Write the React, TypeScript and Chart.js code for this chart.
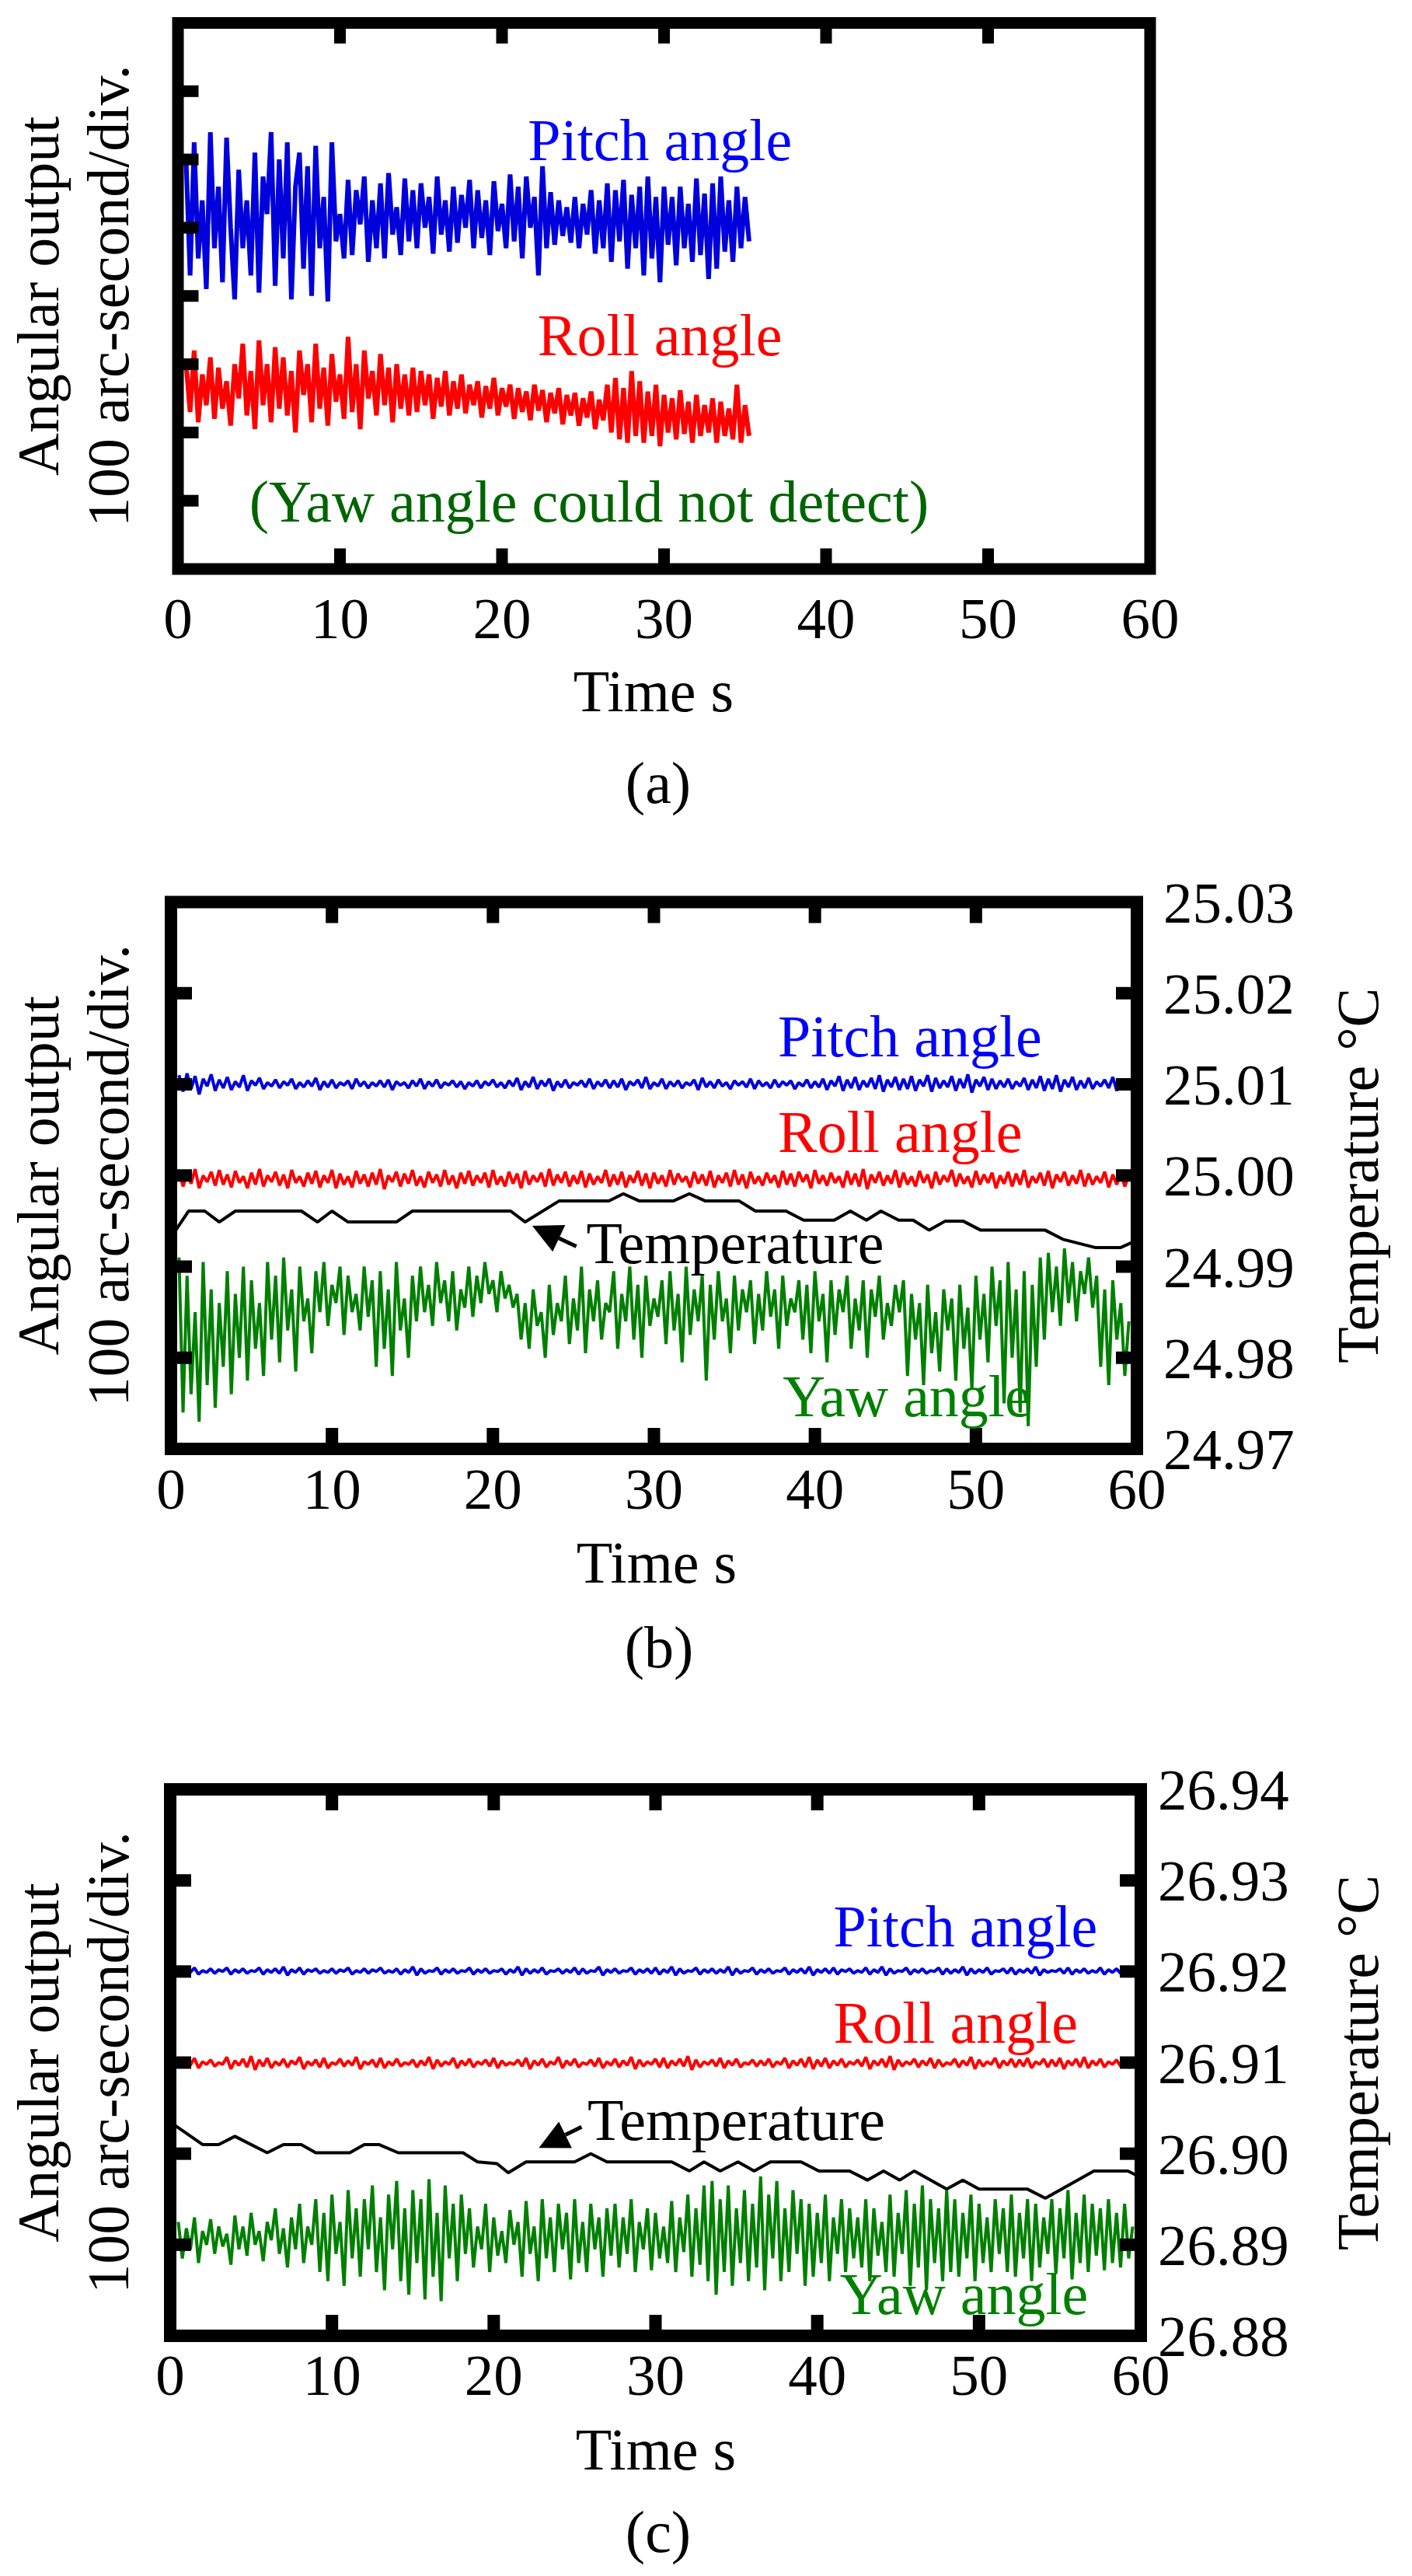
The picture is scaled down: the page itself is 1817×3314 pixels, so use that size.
import React, { useEffect, useRef } from "react";
import { Chart, registerables } from "chart.js";

Chart.register(...registerables);

const FONT = "'Liberation Serif', 'Times New Roman', Times, serif";

// ---------- tick labels ----------
const xTickValues = [0, 10, 20, 30, 40, 50, 60];
const xTickLabels = ["0", "10", "20", "30", "40", "50", "60"];
const tempTickValuesB = [24.97, 24.98, 24.99, 25.0, 25.01, 25.02, 25.03];
const tempTickLabelsB = ["24.97", "24.98", "24.99", "25.00", "25.01", "25.02", "25.03"];
const tempTickValuesC = [26.88, 26.89, 26.9, 26.91, 26.92, 26.93, 26.94];
const tempTickLabelsC = ["26.88", "26.89", "26.90", "26.91", "26.92", "26.93", "26.94"];

// ---------- panel (a): samples every 0.25 s starting at 0.5 s (arc-second) ----------
const pitchA = [
  600, 430, 625, 455, 540, 410, 640, 470,
  560, 420, 632, 500, 395, 585, 470, 540,
  430, 610, 405, 575, 520, 640, 415, 600,
  455, 625, 395, 560, 610, 440, 590, 400,
  620, 470, 545, 392, 625, 480, 520, 455,
  570, 460, 555, 505, 575, 450, 540, 470,
  565, 455, 580, 490, 530, 460, 572, 480,
  555, 470, 565, 500, 545, 462, 575, 490,
  540, 465, 560, 478, 548, 500, 570, 470,
  555, 485, 540, 460, 568, 495, 535, 470,
  578, 480, 560, 455, 575, 500, 545, 430,
  590, 470, 552, 475, 540, 488, 530, 478,
  545, 470, 535, 490, 555, 462, 540, 470,
  565, 450, 555, 480, 570, 440, 548, 470,
  560, 430, 575, 455, 545, 420, 560, 475,
  545, 445, 560, 470, 535, 450, 572, 460,
  550, 425, 565, 440, 575, 465, 540, 450,
  560, 470, 545, 480,
];
const rollA = [
  300, 230, 320, 215, 285, 240, 310, 220,
  295, 235, 275, 210, 300, 250, 330, 225,
  290, 205, 335, 240, 300, 215, 325, 235,
  310, 225, 290, 200, 320, 255, 300, 215,
  330, 235, 295, 210, 315, 245, 285, 220,
  340, 230, 300, 205, 320, 250, 290, 225,
  315, 240, 295, 215, 300, 235, 285, 225,
  295, 230, 290, 240, 285, 220, 280, 238,
  290, 225, 275, 235, 285, 228, 270, 240,
  275, 222, 268, 235, 280, 225, 265, 238,
  270, 220, 265, 230, 260, 218, 270, 232,
  262, 215, 258, 228, 265, 212, 255, 225,
  258, 210, 250, 222, 260, 205, 248, 218,
  270, 200, 280, 190, 265, 185, 290, 195,
  275, 185, 260, 195, 270, 180, 255, 200,
  250, 190, 262, 198, 245, 185, 255, 195,
  240, 200, 250, 185, 245, 195, 235, 190,
  270, 185, 240, 195,
];

// ---------- panel (b): samples every 0.25 s starting at 0.5 s ----------
const pitchB = [
  410, 392, 412, 395, 409, 389, 406, 398, 411, 393, 405, 396,
  408, 394, 403, 397, 410, 393, 404, 399, 407, 395, 402, 398,
  405, 396, 403, 399, 406, 395, 402, 397, 404, 398, 407, 394,
  403, 397, 405, 396, 402, 399, 404, 395, 406, 398, 403, 396,
  402, 398, 404, 397, 405, 394, 403, 399, 402, 396, 404, 398,
  406, 395, 403, 398, 405, 396, 402, 399, 404, 397, 403, 395,
  402, 398, 404, 396, 403, 399, 405, 397, 402, 396, 404, 398,
  407, 394, 403, 397, 408, 395, 404, 398, 406, 393, 403, 397,
  405, 396, 402, 399, 404, 397, 406, 395, 403, 398, 405, 396,
  404, 397, 406, 394, 403, 399, 405, 396, 408, 395, 402, 398,
  406, 395, 403, 398, 404, 396, 402, 399, 405, 394, 407, 397,
  403, 396, 405, 398, 402, 395, 404, 399, 403, 397, 406, 395,
  404, 398, 402, 396, 405, 397, 403, 399, 404, 395, 402, 398,
  405, 396, 403, 397, 406, 394, 404, 398, 409, 393, 405, 396,
  408, 394, 404, 397, 407, 395, 410, 392, 405, 397, 408, 394,
  406, 395, 409, 393, 405, 398, 410, 392, 407, 396, 404, 397,
  409, 393, 406, 396, 411, 391, 405, 398, 408, 394, 406, 395,
  404, 397, 406, 395, 403, 398, 407, 394, 405, 396, 409, 393,
  406, 395, 410, 392, 405, 397, 408, 394, 404, 396, 407, 395,
  403, 398, 405, 396, 408, 393, 404, 397, 402,
];
const rollB = [
  305, 288, 302, 291, 307, 286, 300, 293, 304, 289, 306, 290,
  301, 287, 305, 292, 299, 286, 303, 290, 307, 288, 300, 293,
  304, 289, 301, 286, 306, 292, 299, 288, 303, 291, 305, 287,
  300, 292, 306, 286, 302, 290, 299, 287, 305, 291, 301, 288,
  303, 290, 307, 285, 300, 293, 304, 288, 302, 291, 306, 289,
  299, 287, 304, 292, 301, 288, 306, 290, 300, 286, 303, 291,
  305, 289, 300, 292, 303, 287, 306, 290, 299, 288, 304, 291,
  302, 286, 305, 290, 300, 293, 303, 288, 307, 289, 301, 292,
  304, 288, 300, 291, 305, 287, 302, 290, 299, 292, 306, 288,
  301, 290, 304, 287, 300, 292, 305, 289, 302, 286, 303, 291,
  300, 288, 306, 290, 302, 293, 299, 287, 304, 291, 301, 289,
  305, 287, 300, 292, 303, 288, 306, 290, 301, 286, 304, 291,
  299, 289, 303, 292, 300, 287, 305, 290, 302, 288, 304, 293,
  301, 286, 306, 291, 300, 289, 303, 292, 299, 287, 305, 290,
  302, 288, 307, 285, 301, 292, 304, 289, 300, 291, 306, 287,
  303, 290, 299, 288, 305, 292, 301, 286, 304, 290, 300, 293,
  306, 288, 302, 291, 299, 287, 305, 290, 301, 292, 303, 286,
  300, 291, 304, 288, 302, 290, 306, 287, 299, 292, 303, 289,
  305, 286, 301, 293, 304, 289, 300, 291, 306, 288, 302, 290,
  299, 292, 304, 287, 301, 290, 303, 288, 300,
];
const yawB = [
  210, 40, 190, 60, 150, 30, 205, 70, 175, 45, 160, 90,
  195, 60, 170, 100, 200, 75, 185, 110, 160, 80, 205, 120,
  190, 95, 210, 130, 175, 85, 200, 140, 165, 105, 195, 150,
  205, 135, 180, 160, 200, 125, 190, 150, 170, 130, 200, 145,
  185, 90, 195, 110, 175, 80, 205, 130, 165, 100, 190, 140,
  200, 150, 180, 135, 205, 160, 185, 140, 195, 130, 175, 155,
  200, 145, 190, 160, 205, 170, 185, 150, 195, 165, 180, 155,
  170, 120, 160, 110, 175, 135, 150, 100, 180, 125, 160, 140,
  190, 115, 165, 130, 200, 105, 175, 140, 185, 120, 160, 150,
  195, 110, 170, 140, 200, 120, 180, 100, 190, 135, 165, 145,
  185, 115, 195, 130, 170, 95, 200, 125, 175, 140, 190, 75,
  180, 120, 195, 140, 165, 105, 190, 130, 175, 150, 185, 115,
  170, 130, 195, 145, 175, 110, 190, 135, 165, 150, 185, 120,
  180, 105, 195, 140, 170, 95, 185, 125, 175, 150, 190, 110,
  165, 130, 185, 100, 175, 145, 190, 120, 160, 135, 180, 150,
  185, 80, 170, 120, 160, 70, 180, 105, 150, 85, 175, 130,
  165, 75, 180, 110, 155, 65, 190, 120, 170, 95, 200, 135,
  185, 50, 205, 100, 175, 40, 195, 25, 180, 90, 210, 120,
  215, 150, 200, 135, 220, 160, 205, 140, 195, 170, 210, 155,
  190, 90, 175, 70, 185, 120, 160, 80, 140,
];
const tempTimeB = [
  0.3, 1.1, 2.1, 3.0, 4.0, 8.1, 9.1, 10.0, 11.0, 14.0, 15.0, 21.1, 22.0, 24.1,
  27.2, 28.1, 29.1, 31.2, 32.2, 33.2, 35.3, 36.3, 38.2, 39.3, 41.2, 42.2, 43.2,
  44.1, 45.2, 46.1, 47.1, 48.1, 49.2, 50.3, 54.3, 55.4, 57.4, 59.0, 60.0,
];
const tempB = [
  24.994, 24.9961, 24.9961, 24.9949, 24.9961, 24.9961, 24.9949, 24.9961, 24.9949,
  24.9949, 24.9961, 24.9961, 24.9949, 24.9972, 24.9972, 24.998, 24.9972, 24.9972,
  24.998, 24.9972, 24.9972, 24.9961, 24.9961, 24.9951, 24.9951, 24.9961, 24.9951,
  24.9961, 24.9951, 24.9951, 24.994, 24.995, 24.995, 24.994, 24.994, 24.993,
  24.9921, 24.9921, 24.9929,
];

// ---------- panel (c): samples every 0.25 s starting at 0.5 s ----------
const pitchC = [
  403, 398, 402, 399, 404, 397, 401, 399, 403, 398, 402, 400,
  404, 397, 402, 399, 403, 398, 401, 400, 404, 397, 402, 399,
  403, 398, 405, 396, 402, 399, 404, 397, 402, 400, 403, 398,
  401, 399, 403, 398, 402, 400, 404, 397, 401, 399, 403, 398,
  402, 400, 404, 398, 401, 399, 403, 397, 402, 399, 405, 396,
  403, 398, 401, 400, 404, 397, 402, 399, 403, 398, 401, 400,
  404, 397, 402, 399, 403, 398, 401, 400, 403, 397, 402, 399,
  405, 396, 403, 398, 402, 399, 404, 397, 401, 400, 403, 398,
  402, 399, 404, 397, 403, 398, 401, 400, 405, 396, 402, 399,
  403, 398, 401, 400, 404, 397, 402, 399, 403, 398, 404, 397,
  402, 399, 405, 396, 403, 398, 401, 400, 404, 397, 402, 399,
  403, 398, 402, 399, 405, 396, 403, 398, 401, 400, 404, 397,
  402, 399, 403, 398, 401, 400, 404, 397, 402, 399, 403, 398,
  405, 396, 402, 399, 403, 398, 404, 397, 402, 400, 403, 398,
  401, 399, 404, 397, 402, 399, 405, 396, 403, 398, 401, 400,
  404, 397, 402, 399, 403, 398, 401, 400, 404, 397, 403, 398,
  402, 399, 405, 396, 403, 398, 402, 399, 404, 397, 401, 400,
  403, 398, 404, 397, 402, 399, 403, 398, 405, 396, 402, 399,
  401, 400, 403, 398, 404, 397, 402, 399, 403, 398, 401, 399,
  404, 397, 402, 399, 403, 398, 401, 400, 402,
];
const rollC = [
  304, 295, 302, 297, 305, 294, 301, 298, 303, 296, 300, 298,
  306, 293, 302, 297, 304, 295, 307, 292, 303, 296, 305, 294,
  301, 297, 304, 295, 302, 298, 306, 293, 301, 297, 303, 295,
  305, 294, 300, 298, 304, 296, 302, 297, 306, 293, 301, 298,
  303, 295, 305, 294, 301, 297, 304, 296, 300, 298, 303, 295,
  302, 297, 306, 293, 303, 296, 301, 298, 305, 294, 302, 297,
  304, 295, 301, 298, 303, 296, 305, 294, 302, 297, 300, 298,
  303, 296, 305, 293, 302, 297, 304, 295, 301, 298, 306, 294,
  302, 297, 304, 295, 300, 298, 303, 296, 305, 294, 301, 297,
  304, 295, 302, 297, 306, 293, 303, 296, 301, 298, 304, 295,
  305, 294, 302, 297, 304, 296, 307, 292, 303, 295, 301, 298,
  303, 296, 305, 294, 302, 297, 304, 295, 300, 298, 303, 296,
  302, 297, 304, 295, 301, 298, 305, 294, 302, 297, 304, 295,
  306, 293, 303, 296, 305, 294, 302, 297, 304, 295, 301, 298,
  303, 296, 306, 293, 302, 297, 304, 295, 307, 292, 303, 296,
  301, 298, 304, 295, 302, 297, 305, 294, 303, 296, 300, 298,
  304, 295, 302, 297, 306, 293, 303, 296, 301, 298, 305, 294,
  302, 297, 304, 295, 303, 296, 305, 294, 301, 298, 304, 295,
  303, 296, 305, 293, 302, 297, 304, 295, 306, 294, 302, 297,
  304, 295, 301, 298, 303, 296, 305, 294, 302,
];
const yawC = [
  125, 85, 118, 95, 130, 80, 115, 100, 128, 90, 120, 98,
  112, 78, 132, 95, 120, 88, 135, 100, 115, 82, 125, 105,
  140, 90, 118, 75, 130, 95, 145, 80, 120, 100, 150, 70,
  135, 60, 155, 90, 125, 55, 160, 85, 140, 65, 150, 95,
  165, 70, 130, 50, 155, 95, 170, 60, 140, 45, 160, 80,
  150, 40, 172, 65, 135, 38, 165, 85, 145, 60, 155, 90,
  140, 75, 120, 95, 145, 70, 130, 88, 115, 80, 138, 100,
  125, 65, 148, 90, 120, 60, 150, 85, 130, 70, 145, 95,
  135, 62, 150, 80, 125, 70, 145, 95, 130, 65, 140, 88,
  145, 75, 130, 90, 150, 70, 125, 95, 140, 72, 135, 85,
  120, 80, 148, 70, 130, 92, 155, 65, 140, 78, 165, 60,
  170, 45, 150, 70, 165, 55, 140, 80, 160, 60, 145, 75,
  175, 50, 155, 85, 170, 60, 140, 70, 160, 90, 150, 55,
  145, 65, 135, 80, 155, 60, 130, 90, 150, 70, 140, 85,
  130, 75, 150, 60, 140, 88, 125, 70, 155, 65, 135, 90,
  160, 55, 145, 75, 165, 50, 150, 80, 140, 60, 160, 70,
  150, 65, 135, 85, 155, 60, 145, 80, 130, 70, 150, 90,
  140, 70, 155, 65, 135, 85, 150, 60, 145, 75, 130, 90,
  150, 68, 140, 85, 160, 62, 135, 80, 155, 70, 145, 88,
  140, 72, 150, 80, 135, 75, 145, 85, 120,
];
const tempTimeC = [
  0.3, 2.0, 3.0, 4.0, 6.0, 7.0, 8.1, 9.0, 11.1, 12.0, 12.9, 14.1, 18.1, 19.0,
  20.2, 20.9, 22.0, 25.0, 26.0, 27.0, 31.0, 32.1, 33.0, 34.0, 35.1, 36.1, 37.1,
  39.0, 40.1, 42.0, 43.1, 44.1, 45.1, 46.0, 48.0, 49.0, 50.0, 53.0, 54.1, 57.1,
  59.2, 60.0,
];
const tempC = [
  26.9031, 26.901, 26.901, 26.9019, 26.9001, 26.901, 26.901, 26.9001, 26.9001,
  26.901, 26.901, 26.9001, 26.9001, 26.8991, 26.8989, 26.8979, 26.8991, 26.8991,
  26.9, 26.8991, 26.8991, 26.8981, 26.8991, 26.8981, 26.8991, 26.8981,
  26.8991, 26.8991, 26.8981, 26.8981, 26.8971, 26.8981, 26.8971, 26.8981,
  26.8961, 26.8971, 26.8961, 26.8961, 26.8951, 26.8981, 26.8981, 26.8974,
];

const SAMPLE_START = 0.5;
const SAMPLE_STEP = 0.25;

const BLUE_LINE = "#0000dd";
const BLUE_TEXT = "#0000ff";
const RED = "#ff0000";
const GREEN_LINE = "#008000";
const GREEN_TEXT = "#008000";
const GREEN_DARK = "#006400";

function series(values: number[]) {
  return values.map((v, i) => ({ x: SAMPLE_START + SAMPLE_STEP * i, y: v }));
}
function pairs(times: number[], values: number[]) {
  return values.map((v, i) => ({ x: times[i], y: v }));
}

type Note = { text: string; color: string; t: number; v: number };
type PanelCfg = {
  top: number;
  height: number;
  area: { left: number; right: number; top: number; bottom: number };
  border: number;
  yMax: number;
  leftTicks: number[];
  right?: { min: number; max: number; values: number[]; labels: string[]; labelX: number };
  xLabelBaseline: number;
  titleX: number;
  titleBaseline: number;
  capX: number;
  capBaseline: number;
  caption: string;
  notes: Note[];
  arrow?: { tip: [number, number]; tail: [number, number] };
  datasets: any[];
};

function line(data: any[], color: string, width: number, axis = "y") {
  return {
    data,
    borderColor: color,
    backgroundColor: color,
    borderWidth: width,
    pointRadius: 0,
    fill: false,
    tension: 0,
    borderJoinStyle: "bevel",
    yAxisID: axis,
  };
}

const panels: PanelCfg[] = [
  {
    top: 0,
    height: 1100,
    area: { left: 229, right: 1480, top: 29.5, bottom: 732 },
    border: 15,
    yMax: 800,
    leftTicks: [100, 200, 300, 400, 500, 600, 700],
    xLabelBaseline: 821,
    titleX: 841,
    titleBaseline: 915,
    capX: 847,
    capBaseline: 1033,
    caption: "(a)",
    notes: [
      { text: "Pitch angle", color: BLUE_TEXT, t: 21.6, v: 599 },
      { text: "Roll angle", color: RED, t: 22.2, v: 313 },
      { text: "(Yaw angle could not detect)", color: GREEN_DARK, t: 4.4, v: 69 },
    ],
    datasets: [line(series(pitchA), BLUE_LINE, 6), line(series(rollA), RED, 6)],
  },
  {
    top: 1100,
    height: 1100,
    area: { left: 220, right: 1463, top: 1160.5, bottom: 1864 },
    border: 16,
    yMax: 600,
    leftTicks: [100, 200, 300, 400, 500],
    right: { min: 24.97, max: 25.03, values: tempTickValuesB, labels: tempTickLabelsB, labelX: 1497 },
    xLabelBaseline: 1941,
    titleX: 845,
    titleBaseline: 2036,
    capX: 848,
    capBaseline: 2145,
    caption: "(b)",
    notes: [
      { text: "Pitch angle", color: BLUE_TEXT, t: 37.7, v: 431 },
      { text: "Roll angle", color: RED, t: 37.7, v: 326 },
      { text: "Temperature", color: "#000000", t: 25.8, v: 204 },
      { text: "Yaw angle", color: GREEN_TEXT, t: 38.0, v: 36 },
    ],
    arrow: { tip: [22.44, 244.8], tail: [25.18, 222.1] },
    datasets: [
      line(series(pitchB), BLUE_LINE, 4),
      line(series(rollB), RED, 4),
      line(series(yawB), GREEN_LINE, 4),
      line(pairs(tempTimeB, tempB), "#000000", 4, "y2"),
    ],
  },
  {
    top: 2200,
    height: 1114,
    area: { left: 219, right: 1468, top: 2302, bottom: 3005 },
    border: 16,
    yMax: 600,
    leftTicks: [100, 200, 300, 400, 500],
    right: { min: 26.88, max: 26.94, values: tempTickValuesC, labels: tempTickLabelsC, labelX: 1490 },
    xLabelBaseline: 3081,
    titleX: 844,
    titleBaseline: 3177,
    capX: 847,
    capBaseline: 3283,
    caption: "(c)",
    notes: [
      { text: "Pitch angle", color: BLUE_TEXT, t: 41.0, v: 428 },
      { text: "Roll angle", color: RED, t: 41.0, v: 322 },
      { text: "Temperature", color: "#000000", t: 25.8, v: 215 },
      { text: "Yaw angle", color: GREEN_TEXT, t: 41.4, v: 24 },
    ],
    arrow: { tip: [22.79, 206.4], tail: [25.43, 229.4] },
    datasets: [
      line(series(pitchC), BLUE_LINE, 4),
      line(series(rollC), RED, 4),
      line(series(yawC), GREEN_LINE, 4),
      line(pairs(tempTimeC, tempC), "#000000", 4, "y2"),
    ],
  },
];

function makePlugin(cfg: PanelCfg) {
  return {
    id: "frameAndText",
    afterDraw(chart: any) {
      const ctx = chart.ctx as CanvasRenderingContext2D;
      const { left, right, top, bottom } = chart.chartArea;
      const xs = chart.scales.x;
      const ys = chart.scales.y;
      const off = cfg.top;
      const bw = cfg.border;
      ctx.save();
      // frame
      ctx.strokeStyle = "#000";
      ctx.lineWidth = bw;
      ctx.lineJoin = "miter";
      ctx.strokeRect(left, top, right - left, bottom - top);
      // inward ticks
      ctx.fillStyle = "#000";
      const tl = bw / 2 + 19;
      const tw = bw;
      xTickValues.slice(1, -1).forEach((v) => {
        const px = xs.getPixelForValue(v);
        ctx.fillRect(px - tw / 2, top, tw, tl);
        ctx.fillRect(px - tw / 2, bottom - tl, tw, tl);
      });
      cfg.leftTicks.forEach((v) => {
        const py = ys.getPixelForValue(v);
        ctx.fillRect(left, py - tw / 2, tl, tw);
        if (cfg.right) ctx.fillRect(right - tl, py - tw / 2, tl, tw);
      });
      // x tick labels
      ctx.font = `75px ${FONT}`;
      ctx.textAlign = "center";
      ctx.textBaseline = "alphabetic";
      xTickValues.forEach((v, i) => {
        ctx.fillText(xTickLabels[i], xs.getPixelForValue(v), cfg.xLabelBaseline - off);
      });
      // right tick labels
      if (cfg.right) {
        const y2 = chart.scales.y2;
        ctx.textAlign = "left";
        cfg.right.values.forEach((v, i) => {
          ctx.fillText(cfg.right!.labels[i], cfg.right!.labelX, y2.getPixelForValue(v) + 26);
        });
      }
      // titles
      ctx.font = `76px ${FONT}`;
      ctx.textAlign = "center";
      ctx.fillText("Time s", cfg.titleX, cfg.titleBaseline - off);
      ctx.fillText(cfg.caption, cfg.capX, cfg.capBaseline - off);
      const cy = (top + bottom) / 2;
      const rot = (text: string, x: number) => {
        ctx.save();
        ctx.translate(x, cy);
        ctx.rotate(-Math.PI / 2);
        ctx.textAlign = "center";
        ctx.fillText(text, 0, 0);
        ctx.restore();
      };
      rot("Angular output", 75);
      rot("100 arc-second/div.", 165);
      if (cfg.right) rot("Temperature \u00B0C", 1773);
      // annotations
      ctx.textAlign = "left";
      cfg.notes.forEach((n) => {
        ctx.fillStyle = n.color;
        ctx.fillText(n.text, xs.getPixelForValue(n.t), ys.getPixelForValue(n.v));
      });
      // arrow
      if (cfg.arrow) {
        const tx = xs.getPixelForValue(cfg.arrow.tip[0]);
        const ty = ys.getPixelForValue(cfg.arrow.tip[1]);
        const sx = xs.getPixelForValue(cfg.arrow.tail[0]);
        const sy = ys.getPixelForValue(cfg.arrow.tail[1]);
        const ang = Math.atan2(ty - sy, tx - sx);
        const hl = 38;
        const hw = 19;
        const bx = tx - hl * Math.cos(ang);
        const by = ty - hl * Math.sin(ang);
        ctx.strokeStyle = "#000";
        ctx.fillStyle = "#000";
        ctx.lineWidth = 5;
        ctx.beginPath();
        ctx.moveTo(sx, sy);
        ctx.lineTo(bx, by);
        ctx.stroke();
        ctx.beginPath();
        ctx.moveTo(tx, ty);
        ctx.lineTo(bx + hw * Math.sin(ang), by - hw * Math.cos(ang));
        ctx.lineTo(bx - hw * Math.sin(ang), by + hw * Math.cos(ang));
        ctx.closePath();
        ctx.fill();
      }
      ctx.restore();
    },
  };
}

function Panel({ cfg }: { cfg: PanelCfg }) {
  const ref = useRef<HTMLCanvasElement>(null);
  useEffect(() => {
    const canvas = ref.current;
    if (!canvas) return;
    const scales: any = {
      x: { type: "linear", min: 0, max: 60, display: false },
      y: { type: "linear", min: 0, max: cfg.yMax, display: false },
    };
    if (cfg.right) {
      scales.y2 = { type: "linear", min: cfg.right.min, max: cfg.right.max, display: false };
    }
    const chart = new Chart(canvas, {
      type: "line",
      data: { datasets: cfg.datasets },
      options: {
        animation: false,
        responsive: false,
        maintainAspectRatio: false,
        events: [],
        layout: {
          padding: {
            left: cfg.area.left,
            right: 1817 - cfg.area.right,
            top: cfg.area.top - cfg.top,
            bottom: cfg.top + cfg.height - cfg.area.bottom,
          },
        },
        scales,
        plugins: { legend: { display: false }, tooltip: { enabled: false } },
      },
      plugins: [makePlugin(cfg)],
    } as any);
    return () => chart.destroy();
  }, [cfg]);
  return (
    <canvas
      ref={ref}
      width={1817}
      height={cfg.height}
      style={{ position: "absolute", left: 0, top: cfg.top, width: 1817, height: cfg.height }}
    />
  );
}

export default function App() {
  return (
    <div style={{ position: "absolute", left: 0, top: 0, width: 1817, height: 3314, background: "#fff" }}>
      {panels.map((p, i) => (
        <Panel key={i} cfg={p} />
      ))}
    </div>
  );
}
